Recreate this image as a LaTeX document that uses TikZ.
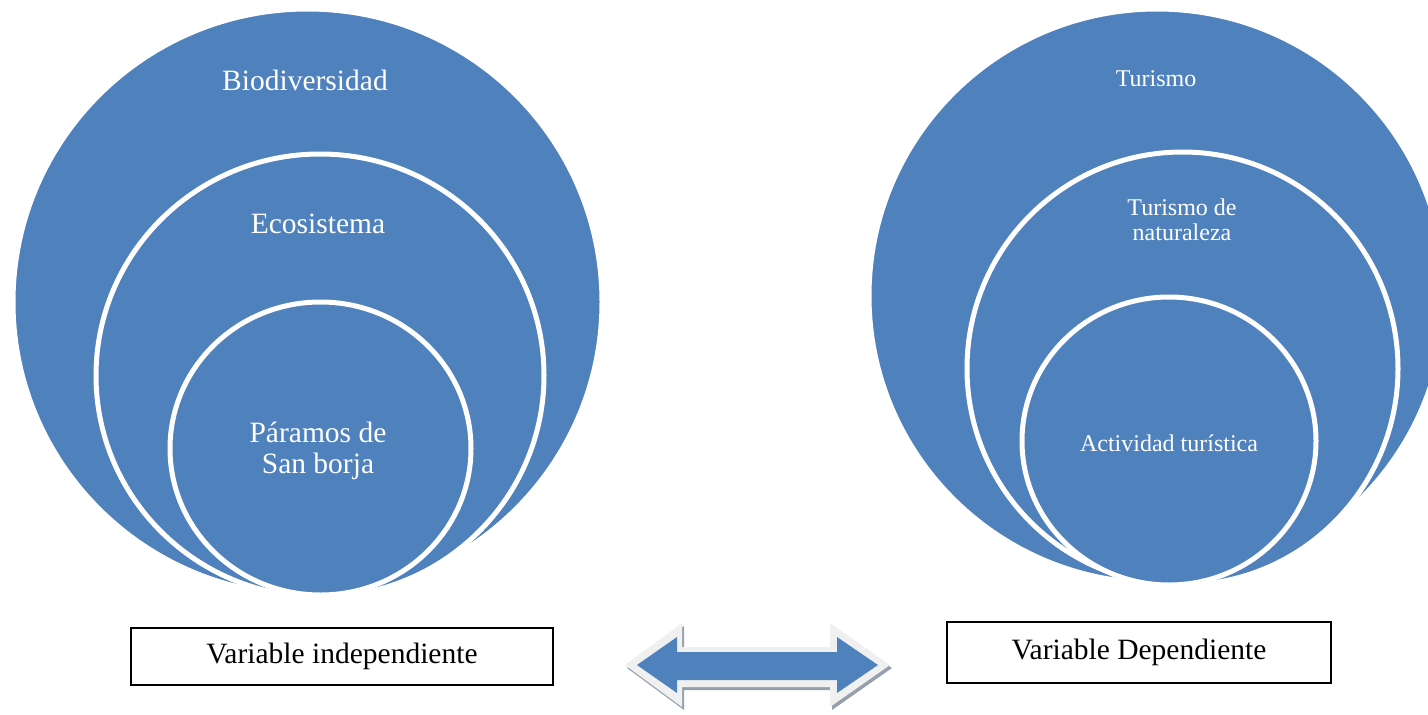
\documentclass[tikz,border=0pt]{standalone}
\usepackage{fontspec}
\setmainfont{Liberation Serif}
\usepackage{tikz}

\definecolor{ringblue}{RGB}{79,129,189}
\definecolor{bevelgray}{RGB}{240,240,240}
\definecolor{shadegray}{RGB}{150,160,172}

\begin{document}
\begin{tikzpicture}[x=1pt,y=1pt,yscale=-1,xscale=1,
  ring/.style={fill=ringblue,draw=white,line width=5},
  bigtext/.style={text=white,align=center,font=\fontsize{29.5}{31}\selectfont},
  smalltext/.style={text=white,align=center,font=\fontsize{24}{25}\selectfont},
  varbox/.style={draw=black,line width=1.5,fill=white,font=\fontsize{29.5}{31}\selectfont}]
\useasboundingbox (0,0) rectangle (1428,715);
\clip (0,0) rectangle (1428,715);

%Shape: Ellipse (left, outer)
\draw [ring] (307.5,302) ellipse (294.5 and 293);
%Shape: Ellipse (left, middle)
\draw [ring] (320,375.5) ellipse (224 and 221.5);
%Shape: Ellipse (left, inner)
\draw [ring] (320.5,448.5) ellipse (150.5 and 146.5);

%Shape: Ellipse (right, outer)
\draw [ring] (1157,296) ellipse (288 and 287);
%Shape: Ellipse (right, middle)
\draw [ring] (1182.5,368.5) ellipse (215.5 and 216.5);
%Shape: Ellipse (right, inner)
\draw [ring] (1169,441) ellipse (147 and 144);

%Shape: Left-Right Arrow (shadow)
\fill [shadegray] (627,668) -- (684,626) -- (684,650) -- (832,650) -- (832,626) -- (892,668) -- (832,710) -- (832,690) -- (684,690) -- (684,710) -- cycle;
%Shape: Left-Right Arrow (bevel)
\fill [bevelgray] (625,665) -- (682,623) -- (682,647) -- (830,647) -- (830,623) -- (890,665) -- (830,707) -- (830,687) -- (682,687) -- (682,707) -- cycle;
%Shape: Left-Right Arrow
\fill [ringblue] (637,665) -- (677,637) -- (677,652) -- (837,652) -- (837,637) -- (878,665) -- (837,693) -- (837,680) -- (677,680) -- (677,693) -- cycle;

% Text Node
\node [bigtext] (biodiv) at (305,80) {Biodiversidad};
% Text Node
\node [bigtext] (ecosis) at (318,224) {Ecosistema};
% Text Node
\node [bigtext] (paramos) at (318,451) {Páramos de\\San borja};

% Text Node
\node [smalltext] (turismo) at (1156,79) {Turismo};
% Text Node
\node [smalltext] (natur) at (1182,220) {Turismo de\\naturaleza};
% Text Node
\node [smalltext] (activ) at (1169,443) {Actividad turística};

% Text Node
\node [varbox,minimum width=422,minimum height=57] (indep) at (342,656.5) {Variable independiente};
% Text Node
\node [varbox,minimum width=384,minimum height=61] (depen) at (1139,652.5) {Variable Dependiente};

\end{tikzpicture}
\end{document}
